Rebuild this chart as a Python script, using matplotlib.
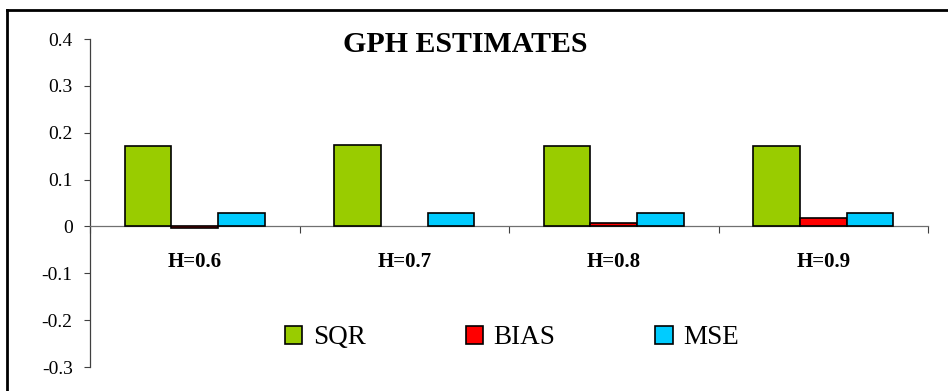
import numpy as np
import matplotlib
matplotlib.use('Agg')
import matplotlib.pyplot as plt
from matplotlib.lines import Line2D

# values
categories = ['H=0.6', 'H=0.7', 'H=0.8', 'H=0.9']
sqr = [0.171, 0.174, 0.171, 0.171]
bias = [-0.003, 0.0, 0.008, 0.017]
mse = [0.029, 0.029, 0.029, 0.029]
yticks = [-0.3, -0.2, -0.1, 0, 0.1, 0.2, 0.3, 0.4]

plt.rcParams['font.family'] = ['Liberation Serif', 'DejaVu Serif']

fig = plt.figure(figsize=(9.48, 3.91), dpi=100)
ax = fig.add_axes([90 / 948, 24 / 391, 838 / 948, 328 / 391])

x = np.arange(len(categories))
w = 0.222
series = [(sqr, '#99CC00', 'SQR'), (bias, '#FF0000', 'BIAS'), (mse, '#00CCFF', 'MSE')]
for i, (vals, col, lab) in enumerate(series):
    bars = ax.bar(x + (i - 1) * w, vals, w, color=col, edgecolor='black',
                  linewidth=1.2, label=lab, zorder=3)
    for b in bars:
        if b.get_height() == 0:
            b.set_linewidth(0)

ax.set_xlim(-0.5, len(categories) - 0.5)
ax.set_ylim(-0.3, 0.4)
ax.set_yticks(yticks)
ax.set_yticklabels(['-0.3', '-0.2', '-0.1', '0', '0.1', '0.2', '0.3', '0.4'])
ax.tick_params(axis='y', direction='out', length=4.5, width=0.8, color='#404040',
               labelsize=14, pad=8)

# category boundaries as ticks, category names as bold text below the zero line
ax.set_xticks(np.arange(len(categories) + 1) - 0.5)
ax.set_xticklabels([])
ax.tick_params(axis='x', direction='out', length=5, width=0.8, color='#404040')
for xi, cat in zip(x, categories):
    ax.text(xi, 0.319, cat, transform=ax.get_xaxis_transform(), ha='center',
            va='center', fontsize=15, fontweight='bold')

for s in ['top', 'right']:
    ax.spines[s].set_visible(False)
ax.spines['bottom'].set_position(('data', 0))
ax.spines['bottom'].set_color('#707070')
ax.spines['left'].set_color('#404040')
ax.spines['bottom'].set_linewidth(0.9)
ax.spines['left'].set_linewidth(0.9)
ax.patch.set_visible(False)

fig.text(465 / 948, 1 - 45 / 391, 'GPH ESTIMATES', ha='center', va='center',
         fontsize=21.5, fontweight='bold')

leg = ax.legend(loc='center left', bbox_to_anchor=(285 / 948, 1 - 338 / 391),
                bbox_transform=fig.transFigure, ncol=3, frameon=False,
                fontsize=19.5, handlelength=0.64, handleheight=0.64,
                handletextpad=0.4, columnspacing=3.68, borderpad=0, borderaxespad=0)

# outer chart frame (only top and left visible in the crop)
fig.add_artist(Line2D([7 / 948, 1], [1 - 10 / 391, 1 - 10 / 391], color='black', lw=2))
fig.add_artist(Line2D([7 / 948, 7 / 948], [0, 1 - 10 / 391], color='black', lw=2))

fig.savefig('out.png', dpi=100)
